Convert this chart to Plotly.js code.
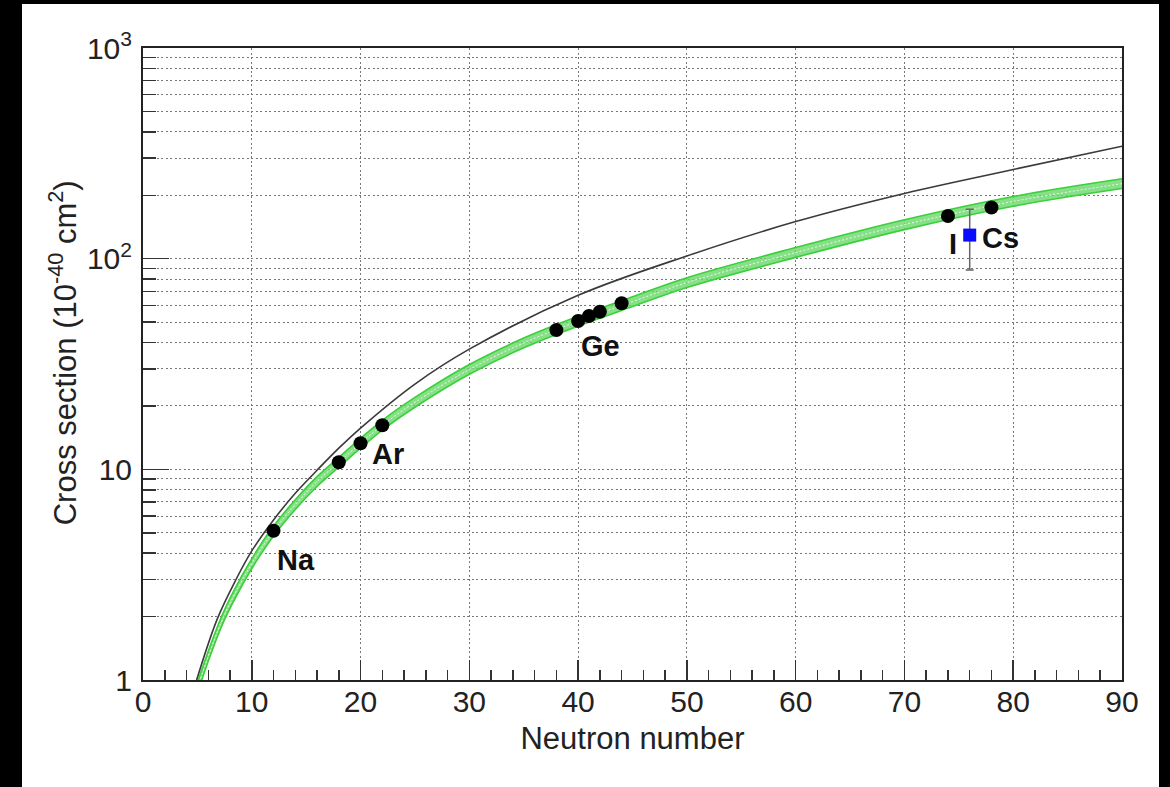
<!DOCTYPE html>
<html>
<head>
<meta charset="utf-8">
<script src="https://cdn.plot.ly/plotly-3.0.1.min.js"></script>
<style>
  html, body { margin: 0; padding: 0; background: #000; width: 1170px; height: 787px; overflow: hidden; }
  #chart { position: absolute; left: 22px; top: 4px; width: 1137px; height: 783px; background: #fff; }
</style>
</head>
<body>
<div id="chart"></div>
<script>
// ---- data ----
// Black curve (upper prediction)
const blackN     = [4.68, 4.93, 6.83, 8.55, 10, 12, 14, 16, 18, 20, 25, 30, 40, 50, 60, 70, 80, 90];
const blackSigma = [0.9, 1.0, 1.95, 3.0, 4.1, 5.75, 7.7, 9.9, 12.6, 15.7, 25.4, 37.2, 67, 103, 150, 204, 265, 342];

// Green band (central value and its edges)
const greenN      = [4.97, 5.24, 7.38, 9.16, 10.6, 12, 14, 16, 18, 20, 22, 25, 30, 35, 40, 45, 50, 60, 70, 80, 90];
const greenCenter = [0.9, 1.0, 1.98, 3.0, 4.0, 5.1, 6.8, 8.75, 10.8, 13.3, 16.2, 20.8, 29.8, 39.8, 50.5, 62.5, 77, 107, 145, 187, 227];
const greenUpper  = [0.95, 1.055, 2.09, 3.17, 4.22, 5.38, 7.17, 9.23, 11.4, 14.03, 17.09, 21.94, 31.44, 41.99, 53.28, 65.94, 81.24, 112.9, 153, 197.3, 239.5];
const greenLower  = [0.853, 0.948, 1.877, 2.844, 3.79, 4.83, 6.45, 8.29, 10.24, 12.61, 15.36, 19.72, 28.25, 37.73, 47.87, 59.24, 72.99, 101.4, 137.4, 177.3, 215.2];

// Isotope points (black dots)
const isoN     = [12, 18, 20, 22, 38, 40, 41, 42, 44, 74, 78];
const isoSigma = [5.11, 10.8, 13.3, 16.2, 45.8, 50.6, 53.4, 56.0, 61.4, 159.3, 175];

// Measurement (blue square with error bar)
const measN        = [76];
const measSigma    = [129.4];
const measErrUp    = [42];
const measErrDown  = [41];

// Element labels
const labelText  = ['Na', 'Ar', 'Ge', 'I', 'Cs'];
const labelN     = [14.06, 22.55, 42.08, 74.5, 78.84];
const labelSigma = [3.71, 11.82, 38.6, 117.3, 125.6];

// Tick labels and titles
const xTickVals = [0, 10, 20, 30, 40, 50, 60, 70, 80, 90];
const xTickText = ['0', '10', '20', '30', '40', '50', '60', '70', '80', '90'];
const yTickVals = [1, 10, 100, 1000];
const yTickText = ['1', '10', '10<sup>2</sup>', '10<sup>3</sup>'];
const xTitle = 'Neutron number';
const yTitle = 'Cross section (10<sup>-40</sup> cm<sup>2</sup>)';

// ---- build chart ----
const yMinor = [];
[1, 10, 100].forEach(d => { for (let k = 2; k <= 9; k++) yMinor.push(d * k); });

const FONT = 'Liberation Sans, Arial, Helvetica, sans-serif';
const green = '#3ad03a';

const traces = [
  { x: greenN, y: greenLower, mode: 'lines', line: { color: green, width: 1.6, shape: 'spline' }, hoverinfo: 'skip', showlegend: false },
  { x: greenN, y: greenUpper, mode: 'lines', fill: 'tonexty', fillcolor: 'rgba(105,215,105,0.8)',
    line: { color: green, width: 1.6, shape: 'spline' }, hoverinfo: 'skip', showlegend: false },
  { x: greenN, y: greenCenter, mode: 'lines', line: { color: 'rgba(235,255,235,0.95)', width: 1, dash: '2px,2px', shape: 'spline' }, hoverinfo: 'skip', showlegend: false },
  { x: blackN, y: blackSigma, mode: 'lines', line: { color: '#3a3a3a', width: 1.6, shape: 'spline' }, hoverinfo: 'skip', showlegend: false },
  { x: isoN, y: isoSigma, mode: 'markers', marker: { color: '#000', size: 14, symbol: 'circle' }, showlegend: false },
  { x: measN, y: measSigma, mode: 'markers', marker: { color: '#0a0aff', size: 13, symbol: 'square' },
    error_y: { type: 'data', symmetric: false, array: measErrUp, arrayminus: measErrDown, color: '#666', thickness: 1.5, width: 4 },
    showlegend: false }
];

const annotations = labelText.map((t, i) => ({
  x: labelN[i], y: Math.log10(labelSigma[i]), xref: 'x', yref: 'y',
  text: t, showarrow: false, xanchor: 'center', yanchor: 'middle',
  font: { family: FONT, size: 29, color: '#111', weight: 'bold' }
}));
annotations.push({
  x: -0.0817, y: 0.517, xref: 'paper', yref: 'paper', text: yTitle, textangle: -90,
  showarrow: false, xanchor: 'center', yanchor: 'middle',
  font: { family: FONT, size: 31, color: '#222' }
});

const gridDash = '2px,2.5px';
const gridColor = '#777';
const layout = {
  width: 1137, height: 783,
  margin: { l: 121, r: 37, t: 44, b: 107 },
  paper_bgcolor: '#fff', plot_bgcolor: '#fff',
  font: { family: FONT, color: '#222' },
  showlegend: false,
  xaxis: {
    range: [0, 90], tickmode: 'array', tickvals: xTickVals, ticktext: xTickText,
    ticks: 'inside', ticklen: 20, tickwidth: 1.5, tickcolor: '#333',
    showgrid: true, gridcolor: gridColor, gridwidth: 1, griddash: gridDash,
    showline: true, linecolor: '#222', linewidth: 2, mirror: true, zeroline: false,
    tickfont: { family: FONT, size: 30, color: '#222' }, ticklabelstandoff: -6,
    minor: { dtick: 2, tick0: 0, ticks: 'inside', ticklen: 10, tickwidth: 1.5, tickcolor: '#333', showgrid: false },
    title: { text: xTitle, font: { family: FONT, size: 31, color: '#222' }, standoff: 10 },
    automargin: false
  },
  yaxis: {
    type: 'log', range: [0, 3], tickmode: 'array', tickvals: yTickVals, ticktext: yTickText,
    ticks: 'inside', ticklen: 26, tickwidth: 1.5, tickcolor: '#333',
    showgrid: true, gridcolor: gridColor, gridwidth: 1, griddash: gridDash,
    showline: true, linecolor: '#222', linewidth: 2, mirror: true, zeroline: false,
    tickfont: { family: FONT, size: 30, color: '#222' }, ticklabelstandoff: 3,
    minor: { tickmode: 'array', tickvals: yMinor, ticks: 'inside', ticklen: 13, tickwidth: 1.5, tickcolor: '#333',
             showgrid: true, gridcolor: gridColor, gridwidth: 1, griddash: gridDash },
    automargin: false
  },
  annotations: annotations
};

Plotly.newPlot('chart', traces, layout, { staticPlot: true, displayModeBar: false });
</script>
</body>
</html>
